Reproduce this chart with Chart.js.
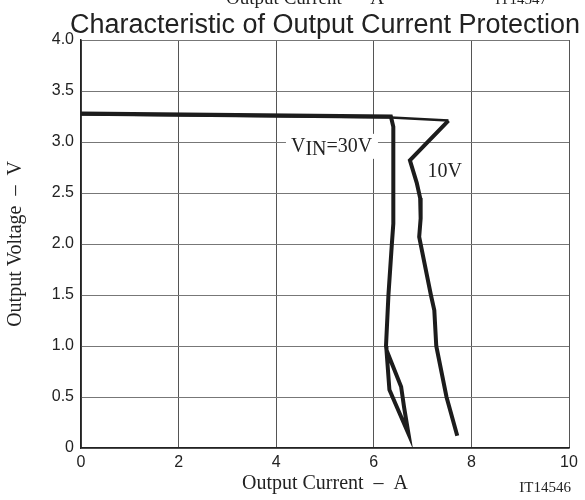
<!DOCTYPE html>
<html>
<head>
<meta charset="utf-8">
<script src="https://cdn.jsdelivr.net/npm/chart.js@4"></script>
<style>
  html, body { margin: 0; padding: 0; background: #fff; }
  canvas { display: block; }
</style>
</head>
<body>
<canvas id="myChart" width="585" height="500"></canvas>
<script>
// curve for V_IN = 30V
var current30 = [0, 6.35, 6.4, 6.4, 6.37, 6.3, 6.25, 6.26, 6.32, 6.71, 6.62, 6.56, 6.26];
var voltage30 = [3.28, 3.25, 3.15, 2.2, 2.0, 1.5, 1.0, 0.96, 0.57, 0.14, 0.4, 0.6, 0.96];
// curve for V_IN = 10V
var current10 = [0, 6.35, 7.53, 6.74, 6.88, 6.95, 6.96, 6.93, 7.17, 7.24, 7.28, 7.49, 7.71];
var voltage10 = [3.27, 3.24, 3.21, 2.82, 2.6, 2.45, 2.25, 2.07, 1.5, 1.35, 1.0, 0.5, 0.12];

var xTicks = [0, 2, 4, 6, 8, 10];
var yTicks = [0, 0.5, 1.0, 1.5, 2.0, 2.5, 3.0, 3.5, 4.0];

function toPoints(xs, ys){
    return xs.map(function(x, i){ return {x: x, y: ys[i]}; });
}

var serif = '"Liberation Serif", "Times New Roman", serif';
var sans = '"Liberation Sans", Arial, sans-serif';

// text that is not part of chart.js (title, curve labels, figure codes)
var textPlugin = {
    id: 'texts',
    afterDraw: function(chart){
        var ctx = chart.ctx;
        var xs = chart.scales.x, ys = chart.scales.y;
        ctx.save();
        ctx.fillStyle = '#222';
        // clipped caption of the figure above
        ctx.font = '19px ' + serif;
        ctx.textAlign = 'center';
        ctx.textBaseline = 'alphabetic';
        ctx.fillText('Output Current  \u2013  A', 305, 4);
        ctx.font = '15px ' + serif;
        ctx.textAlign = 'right';
        ctx.fillText('IT14547', 547, 4);
        // title
        ctx.font = '27px ' + sans;
        ctx.textAlign = 'center';
        ctx.fillText('Characteristic of Output Current Protection', 325, 33);
        // V_IN=30V label on white box
        var bx = xs.getPixelForValue(4.2), by = ys.getPixelForValue(3.08);
        ctx.fillStyle = '#fff';
        ctx.fillRect(bx, by, 92, 25);
        ctx.fillStyle = '#222';
        ctx.textAlign = 'left';
        ctx.font = '20px ' + serif;
        var tx = bx + 5, base = ys.getPixelForValue(2.9);
        ctx.fillText('V', tx, base);
        tx += ctx.measureText('V').width;
        ctx.fillText('IN', tx, base + 3);
        tx += ctx.measureText('IN').width;
        ctx.fillText('=30V', tx, base);
        // 10V label
        ctx.fillText('10V', xs.getPixelForValue(7.1), ys.getPixelForValue(2.66));
        // figure code
        ctx.font = '15px ' + serif;
        ctx.textAlign = 'right';
        ctx.fillText('IT14546', 571, 492);
        ctx.restore();
    }
};

var ctx = document.getElementById('myChart').getContext('2d');
var chart = new Chart(ctx, {
    type: 'scatter',
    data: {
        datasets: [{
            label: 'VIN=30V',
            data: toPoints(current30, voltage30),
            showLine: true,
            borderColor: '#1c1c1c',
            borderWidth: 4,
            pointRadius: 0,
            tension: 0
        }, {
            label: '10V',
            data: toPoints(current10, voltage10),
            showLine: true,
            borderColor: '#1c1c1c',
            borderWidth: 4,
            pointRadius: 0,
            tension: 0,
            segment: {
                borderWidth: function(c){ return c.p0DataIndex < 2 ? 2.5 : 4; }
            }
        }]
    },
    options: {
        responsive: false,
        animation: false,
        devicePixelRatio: 1,
        layout: { padding: { top: 40, right: 16, bottom: 0, left: 0 } },
        plugins: {
            legend: { display: false },
            tooltip: { enabled: false }
        },
        scales: {
            x: {
                type: 'linear',
                min: 0, max: 10,
                afterFit: function(s){ s.height = 52; },
                afterBuildTicks: function(s){ s.ticks = xTicks.map(function(v){ return {value: v}; }); },
                grid: { color: '#555', lineWidth: 1, drawTicks: false },
                border: { color: '#222', width: 1.5 },
                ticks: { color: '#222', font: { family: sans, size: 16 }, padding: 5, maxRotation: 0 },
                title: {
                    display: true,
                    text: 'Output Current  \u2013  A',
                    color: '#222',
                    font: { family: serif, size: 20 },
                    padding: { top: 2 }
                }
            },
            y: {
                type: 'linear',
                min: 0, max: 4,
                afterFit: function(s){ s.width = 81; },
                afterBuildTicks: function(s){ s.ticks = yTicks.map(function(v){ return {value: v}; }); },
                grid: { color: '#777', lineWidth: 1, drawTicks: false },
                border: { color: '#222', width: 1.5 },
                ticks: {
                    color: '#222',
                    font: { family: sans, size: 16 },
                    padding: 7,
                    callback: function(v){ return v === 0 ? '0' : v.toFixed(1); }
                },
                title: {
                    display: true,
                    text: 'Output Voltage  \u2013  V',
                    color: '#222',
                    font: { family: serif, size: 20 },
                    padding: { bottom: 0 }
                }
            }
        }
    },
    plugins: [textPlugin]
});
</script>
</body>
</html>
